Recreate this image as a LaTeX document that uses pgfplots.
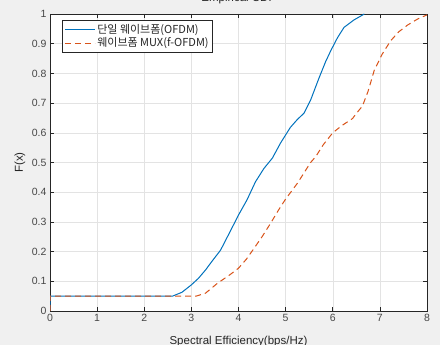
\documentclass[border=0pt]{standalone}
\usepackage{pgfplots}
\pgfplotsset{compat=1.18}
\usepackage{fontspec}
\setmainfont{Liberation Sans}
\newfontfamily\kr{Noto Sans CJK KR}
\definecolor{mblue}{rgb}{0,0.447,0.741}
\definecolor{morange}{rgb}{0.85,0.325,0.098}
\definecolor{figbg}{RGB}{240,240,240}
\definecolor{axcol}{RGB}{38,38,38}
\begin{document}
\begin{tikzpicture}
\useasboundingbox (0pt,0pt) rectangle (440pt,345pt);
\fill[figbg] (0pt,0pt) rectangle (440pt,345pt);
\clip (0pt,0pt) rectangle (440pt,345pt);
\begin{axis}[
  at={(50pt,34pt)}, anchor=south west,
  scale only axis, width=377pt, height=297pt,
  xmin=0, xmax=8, ymin=0, ymax=1,
  xtick={0,1,...,8},
  ytick={0,0.1,0.2,0.3,0.4,0.5,0.6,0.7,0.8,0.9,1},
  yticklabels={0,0.1,0.2,0.3,0.4,0.5,0.6,0.7,0.8,0.9,1},
  /pgf/number format/assume math mode=true,
  axis background/.style={fill=white},
  axis line style={axcol, line width=0.5pt},
  tick style={axcol, line width=0.5pt},
  tick align=inside, major tick length=4pt,
  grid=major, grid style={gray!22, line width=0.4pt},
  ticklabel style={font=\fontsize{10.5}{12}\selectfont, text=axcol!85},
  xlabel={Spectral Efficiency(bps/Hz)},
  xlabel style={font=\fontsize{11.5}{13}\selectfont, text=axcol, at={(axis description cs:0.5,0)}, anchor=base, yshift=-34pt},
  ylabel={F(x)},
  ylabel style={font=\fontsize{11.5}{13}\selectfont, text=axcol, at={(axis description cs:-0.08,0.5)}, anchor=center},
  title={Empirical CDF},
  title style={font=\fontsize{11.5}{13}\selectfont, text=axcol, at={(axis description cs:0.5,1)}, anchor=base, yshift=6pt},
  legend style={at={(0.032,0.98)}, anchor=north west, draw=axcol, line width=0.5pt, font=\kr\fontsize{11}{13}\selectfont, text=axcol, inner sep=2pt, row sep=-1pt},
  legend cell align=left,
  legend image code/.code={\draw[#1] (0pt,0pt) -- (30pt,0pt);},
]
\addplot[mblue, line width=1pt] coordinates {
(0,0) (0,0.05) (2.6,0.05) (2.8,0.063) (3.0,0.088) (3.15,0.11) (3.3,0.138) (3.45,0.17) (3.62,0.205) (3.83,0.27) (4.0,0.323) (4.18,0.374) (4.36,0.435) (4.54,0.48) (4.72,0.515) (4.89,0.565) (5.1,0.618) (5.25,0.645) (5.39,0.666) (5.53,0.71) (5.71,0.785) (5.85,0.84) (5.96,0.877) (6.1,0.92) (6.24,0.955) (6.45,0.98) (6.67,1.0)
};
\addlegendentry{단일 웨이브폼(OFDM)}
\addplot[morange, line width=1pt, dash pattern=on 6pt off 4pt] coordinates {
(0,0) (0,0.05) (3.1,0.05) (3.3,0.06) (3.55,0.093) (3.8,0.12) (4.0,0.144) (4.17,0.175) (4.33,0.211) (4.5,0.25) (4.68,0.295) (4.85,0.34) (5.0,0.377) (5.25,0.43) (5.53,0.5) (5.64,0.52) (5.8,0.56) (6.0,0.60) (6.2,0.625) (6.42,0.648) (6.5,0.665) (6.63,0.69) (6.75,0.74) (6.88,0.81) (7.05,0.865) (7.23,0.91) (7.4,0.94) (7.59,0.963) (7.8,0.983) (8.0,0.997)
};
\addlegendentry{웨이브폼 MUX(f-OFDM)}
\end{axis}
\end{tikzpicture}
\end{document}
